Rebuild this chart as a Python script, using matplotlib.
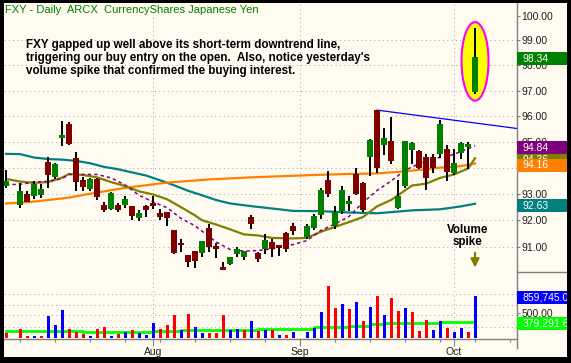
import numpy as np
import pandas as pd
import matplotlib
matplotlib.use("Agg")
import matplotlib.pyplot as plt
from matplotlib.patches import Rectangle, Ellipse
from matplotlib.lines import Line2D
from matplotlib.ticker import FixedLocator, NullLocator, FuncFormatter

plt.rcParams["font.family"] = ["Liberation Sans", "DejaVu Sans"]

# FXY daily bars, Jul 3 - Oct 6 2008 (market closed Jul 4 and Sep 1)
holidays = ["2008-07-04", "2008-09-01"]
dates = pd.bdate_range("2008-07-03", "2008-10-06").drop(pd.to_datetime(holidays))

open_ = [93.30, 92.59, 92.99, 92.93, 92.95, 94.22, 93.63, 95.15, 95.69, 94.36,
         93.52, 93.19, 93.56, 92.60, 92.43, 92.58, 92.60, 92.53, 92.08, 92.56,
         92.65, 92.29, 92.31, 91.63, 91.16, 90.71, 90.86, 90.80, 91.71, 91.05,
         90.26, 90.39, 90.76, 90.64, 92.12, 90.80, 90.94, 91.18, 91.08, 91.55,
         91.79, 91.37, 91.71, 92.22, 93.52, 91.79, 92.34, 92.63, 93.74, 93.43,
         94.41, 96.23, 94.87, 95.02, 92.46, 93.32, 94.67, 94.64, 94.41, 94.41,
         94.52, 94.71, 93.80, 94.57, 94.79, 96.95]
high = [93.91, 93.43, 93.11, 93.48, 93.38, 94.40, 94.19, 95.80, 95.75, 94.60,
        93.65, 93.59, 93.59, 92.71, 93.06, 92.67, 92.93, 92.55, 92.39, 92.58,
        92.93, 92.43, 92.33, 91.65, 91.30, 90.73, 90.88, 91.24, 91.86, 91.16,
        90.47, 90.66, 91.00, 90.86, 92.21, 90.82, 91.48, 91.30, 91.10, 91.57,
        91.90, 91.85, 92.23, 93.23, 93.87, 92.53, 93.32, 92.93, 93.97, 93.45,
        95.11, 96.25, 95.54, 95.96, 93.52, 95.02, 94.98, 94.66, 94.53, 94.53,
        95.83, 94.87, 94.72, 95.00, 95.00, 99.49]
low = [93.24, 92.46, 92.68, 92.80, 92.85, 93.21, 93.56, 94.84, 94.87, 93.12,
       93.12, 93.11, 92.76, 92.32, 92.39, 92.32, 92.47, 92.00, 91.98, 92.12,
       92.45, 92.00, 91.80, 90.76, 90.84, 90.27, 90.23, 90.64, 90.84, 90.60,
       90.16, 90.33, 90.64, 90.53, 91.70, 90.47, 90.75, 90.64, 90.67, 90.84,
       91.45, 91.31, 91.66, 92.04, 92.89, 91.70, 92.23, 92.34, 92.96, 92.30,
       93.70, 93.80, 94.48, 94.14, 92.43, 93.24, 94.14, 93.95, 93.15, 93.80,
       94.37, 93.48, 93.71, 94.33, 93.95, 96.85]
close = [93.48, 93.11, 92.69, 93.38, 93.19, 93.71, 94.14, 95.26, 94.91, 93.45,
         93.26, 93.56, 92.89, 92.39, 93.04, 92.39, 92.82, 92.16, 92.28, 92.39,
         92.53, 92.13, 92.08, 90.80, 91.08, 90.47, 90.51, 91.22, 91.02, 90.95,
         90.17, 90.66, 90.94, 90.86, 91.86, 90.58, 91.26, 90.94, 90.97, 90.95,
         91.59, 91.79, 92.16, 93.15, 92.99, 92.30, 93.15, 92.72, 92.98, 92.38,
         95.06, 93.98, 95.15, 94.26, 92.93, 95.02, 94.96, 94.00, 93.61, 94.00,
         95.69, 93.84, 94.18, 94.96, 94.91, 98.34]
prior_close = 93.60

# volume in thousands of shares
volume = [102, 177, 34, 34, 34, 450, 259, 566, 177, 123,
          82, 34, 177, 225, 41, 82, 123, 157, 102, 55,
          307, 177, 259, 471, 157, 491, 225, 102, 102, 102,
          471, 157, 177, 157, 341, 136, 157, 157, 55, 55,
          116, 116, 198, 525, 1058, 607, 689, 587, 730, 341,
          628, 853, 464, 812, 546, 607, 525, 136, 362, 157,
          341, 198, 116, 198, 116, 859.745]

# moving averages
teal_days = ["07-03", "07-07", "07-09", "07-11", "07-15", "07-17", "07-21", "07-23", "07-25",
             "07-29", "07-31", "08-04", "08-06", "08-08", "08-12", "08-14", "08-18", "08-21",
             "08-26", "08-29", "09-04", "09-10", "09-16", "09-23", "09-29", "10-02", "10-06"]
teal_ma = [94.53, 94.52, 94.39, 94.33, 94.31, 94.26, 94.17, 94.03, 93.94,
           93.82, 93.70, 93.52, 93.33, 93.12, 92.95, 92.77, 92.64, 92.54,
           92.45, 92.36, 92.35, 92.30, 92.27, 92.38, 92.42, 92.53, 92.63]

orange_days = ["07-03", "07-07", "07-09", "07-11", "07-16", "07-18", "07-22", "07-24", "07-28",
               "07-31", "08-05", "08-08", "08-13", "08-18", "08-21", "08-28", "09-03", "09-10",
               "09-16", "09-22", "09-29", "10-02", "10-06"]
orange_ma = [92.64, 92.67, 92.71, 92.77, 92.86, 92.96, 93.05, 93.14, 93.23,
             93.33, 93.43, 93.49, 93.55, 93.59, 93.63, 93.68, 93.72, 93.76,
             93.78, 93.86, 94.00, 94.06, 94.16]

olive_days = ["07-03", "07-07", "07-09", "07-11", "07-15", "07-16", "07-18", "07-22", "07-24",
              "07-28", "07-30", "08-01", "08-05", "08-07", "08-11", "08-12", "08-14", "08-18",
              "08-20", "08-22", "08-26", "08-29", "09-02", "09-04", "09-08", "09-10", "09-12",
              "09-16", "09-18", "09-19", "09-23", "09-25", "09-29", "10-01", "10-03", "10-06"]
olive_ma = [93.57, 93.47, 93.42, 93.45, 93.62, 93.76, 93.72, 93.63, 93.45,
            93.30, 93.10, 92.98, 92.80, 92.50, 92.19, 92.01, 91.85, 91.67,
            91.48, 91.44, 91.35, 91.33, 91.35, 91.58, 91.76, 91.94, 92.13,
            92.53, 92.77, 92.95, 93.32, 93.39, 93.61, 93.74, 93.97, 94.36]

purple_days = ["07-03", "07-07", "07-09", "07-11", "07-15", "07-16", "07-18", "07-22", "07-24",
               "07-25", "07-28", "07-30", "08-01", "08-05", "08-07", "08-11", "08-12", "08-14",
               "08-18", "08-20", "08-22", "08-26", "08-28", "08-29", "09-02", "09-04", "09-08",
               "09-10", "09-12", "09-16", "09-18", "09-22", "09-24", "09-26", "09-30", "10-02",
               "10-06"]
purple_ma = [93.36, 93.36, 93.45, 93.48, 93.58, 93.74, 93.74, 93.74, 93.61,
             93.48, 93.34, 92.95, 92.70, 92.48, 92.08, 91.80, 91.60, 91.20,
             90.92, 90.86, 90.88, 90.94, 91.06, 91.10, 91.25, 91.63, 91.87,
             92.15, 92.68, 93.13, 93.49, 93.90, 94.15, 94.36, 94.42, 94.62,
             94.84]

# volume moving average (thousands), level changes
vma_days = ["07-03", "07-18", "08-01", "08-07", "08-22", "09-03", "09-10", "09-15",
            "09-17", "09-29", "10-06"]
vma = [143, 118, 143, 164, 184, 213, 240, 274, 301, 328, 328]
vma_label = 379291.6

# short-term downtrend line
trend_days = ["09-16", "10-16"]
trend_price = [96.23, 95.44]

note_lines = ["FXY gapped up well above its short-term downtrend line,",
              "triggering our buy entry on the open.  Also, notice yesterday's",
              "volume spike that confirmed the buying interest."]
title = "FXY - Daily  ARCX  CurrencyShares Japanese Yen"

price_ticks = [91, 92, 93, 94, 95, 96, 97, 98, 99, 100]
vol_ticks = [500]
vol_grid = [225, 458, 669, 888]

CREAM = "#fffbf0"
GRID = "#a8a8a8"
AXIS = "#808080"
GREEN, MAROON = "#008000", "#800000"
TEAL, ORANGE, OLIVE, PURPLE = "#008080", "#ff8000", "#808000", "#800080"

# x positions on a weekday axis (holidays keep an empty slot)
axis_days = pd.bdate_range("2008-07-03", "2008-10-17")
x = axis_days.get_indexer(dates)


def xpos(days):
    return axis_days.get_indexer(pd.to_datetime(["2008-" + d for d in days]))


open_, high, low, close = map(np.array, (open_, high, low, close))
volume = np.array(volume)
prev = np.concatenate([[prior_close], close[:-1]])
up_day = close > prev

W, H = 571, 363
fig = plt.figure(figsize=(W / 100, H / 100), dpi=100, facecolor=CREAM)


def px_box(x0, y0, x1, y1):
    return [x0 / W, 1 - y1 / H, (x1 - x0) / W, (y1 - y0) / H]


ax = fig.add_axes(px_box(4, 3, 517.3, 272))
axv = fig.add_axes(px_box(4, 272, 517.3, 339.3), sharex=ax)
for a in (ax, axv):
    a.set_facecolor("none")
    for s in a.spines.values():
        s.set_visible(False)

ax.set_yscale("log")
ax.set_ylim(90.09, 100.52)
ax.set_xlim(-0.29, 73.04)
axv.set_ylim(-33, 1345)

dots = (0, (1, 3.3))
month_starts = [i for i in range(1, len(axis_days)) if axis_days[i].month != axis_days[i - 1].month]
mondays = [i for i in range(len(axis_days)) if axis_days[i].weekday() == 0]
for p in price_ticks[:-1]:
    ax.axhline(p, color=GRID, lw=0.72, ls=dots, zorder=0)
for v in vol_grid:
    axv.axhline(v, color=GRID, lw=0.72, ls=dots, zorder=0)
for m in month_starts:
    ax.axvline(m, color=GRID, lw=0.72, ls=dots, zorder=0)
    axv.axvline(m, color=GRID, lw=0.72, ls=dots, zorder=0)

# moving averages
ax.plot(xpos(teal_days), teal_ma, color=TEAL, lw=1.6, zorder=2)
ax.plot(xpos(orange_days), orange_ma, color=ORANGE, lw=1.6, zorder=2)
ax.plot(xpos(olive_days), olive_ma, color=OLIVE, lw=1.6, zorder=2)
ax.plot(xpos(purple_days), purple_ma, color=PURPLE, lw=1.1, dashes=(2.2, 2.0), zorder=2)
ax.plot(xpos(trend_days), trend_price, color="#0000ff", lw=0.9, zorder=2)

# highlight of the gap bar
ax.add_patch(Ellipse((x[-1], (high[-1] + low[-1]) / 2), 3.86, (high[-1] - low[-1]) * 1.19,
                     facecolor="#ffff00", edgecolor="#ff00ff", lw=1.5, zorder=2.5))

# candles
ax.vlines(x, low, high, color="black", lw=1.4, zorder=3)
body_col = np.where(close >= open_, GREEN, MAROON)
ax.bar(x, np.abs(close - open_), bottom=np.minimum(open_, close), width=0.84,
       color=body_col, zorder=4)

# volume
vol_col = np.where(up_day, "#0000ff", "#ff0000")
axv.bar(x, volume, width=0.43, color=vol_col, zorder=3)
axv.plot(xpos(vma_days), vma, color="#00ff00", lw=2.0, drawstyle="steps-post", zorder=2)

# axes ticks
fmt = FuncFormatter(lambda v, _: f"{v:.2f}")
ax.yaxis.tick_right()
ax.yaxis.set_major_locator(FixedLocator(price_ticks))
ax.yaxis.set_minor_locator(NullLocator())
ax.yaxis.set_major_formatter(fmt)
ax.tick_params(axis="y", length=2.5, width=0.8, color=AXIS, pad=0.4, labelsize=7.5,
               labelcolor="#202020")
ax.tick_params(axis="x", which="both", bottom=False, labelbottom=False)

axv.yaxis.tick_right()
axv.yaxis.set_major_locator(FixedLocator(vol_ticks))
axv.yaxis.set_major_formatter(fmt)
axv.tick_params(axis="y", length=2.5, width=0.8, color=AXIS, pad=0.4, labelsize=7.5,
                labelcolor="#202020")
axv.spines["bottom"].set_visible(True)
axv.spines["bottom"].set_color(AXIS)
axv.spines["bottom"].set_linewidth(1.0)
axv.xaxis.set_major_locator(FixedLocator(month_starts))
axv.xaxis.set_minor_locator(FixedLocator(mondays))
axv.set_xticklabels([axis_days[m].strftime("%b") for m in month_starts])
axv.tick_params(axis="x", which="major", length=5, width=0.8, color=AXIS, pad=0.5,
                labelsize=7.5, labelcolor="#202020")
axv.tick_params(axis="x", which="minor", length=2, width=0.8, color=AXIS)

# annotations
fig.text(5 / W, 1 - 13.3 / H, title, color=GREEN, fontsize=8, va="baseline")
for i, line in enumerate(note_lines):
    fig.text(26 / W, 1 - (47.7 + 13.2 * i) / H, line, fontsize=8.4, fontweight="bold",
             va="baseline")
for i, word in enumerate(["Volume", "spike"]):
    fig.text(467.5 / W, 1 - (232.7 + 12.6 * i) / H, word, fontsize=8.4, fontweight="bold",
             ha="center", va="baseline")
ax.annotate("", xy=(x[-1], 90.25), xytext=(x[-1], 90.80),
            arrowprops=dict(arrowstyle="-|>,head_length=0.5,head_width=0.25",
                            color=OLIVE, lw=1.6, shrinkA=0, shrinkB=0, mutation_scale=10))


# value boxes on the right scale (later boxes cover earlier ones)
def value_box(a, value, text, color, z):
    y = a.transData.transform((0, value))[1]
    fig.add_artist(Rectangle((517.3 / W, (y - 8.6) / H), 54 / W, 13.3 / H,
                             transform=fig.transFigure, facecolor=color, edgecolor="none",
                             zorder=z))
    fig.text(522.5 / W, (y - 2.0) / H, text, color="white", fontsize=7.5, va="center",
             zorder=z + 0.1)


value_box(ax, olive_ma[-1], f"{olive_ma[-1]:.2f}", OLIVE, 5)
value_box(ax, close[-1], f"{close[-1]:.2f}", GREEN, 5.2)
value_box(ax, purple_ma[-1], f"{purple_ma[-1]:.2f}", PURPLE, 5.4)
value_box(ax, orange_ma[-1], f"{orange_ma[-1]:.2f}", ORANGE, 5.6)
value_box(ax, teal_ma[-1], f"{teal_ma[-1]:.2f}", TEAL, 5.8)
value_box(axv, volume[-1], f"{volume[-1] * 1000:,.1f}", "#0000ff", 6)
value_box(axv, vma[-1], f"{vma_label:,.1f}", "#00ff00", 6.2)

# frame lines and black border
fig.add_artist(Line2D([517.3 / W] * 2, [1 - 3 / H, 1 - 348 / H], color=AXIS, lw=1.0, zorder=4))
fig.add_artist(Line2D([517.3 / W, 1], [1 - 271.7 / H] * 2, color=AXIS, lw=1.0, zorder=4))
for bx in [(0, 0, W, 3), (0, 357, W, H), (0, 0, 4, H), (567, 0, W, H)]:
    fig.add_artist(Rectangle((bx[0] / W, 1 - bx[3] / H), (bx[2] - bx[0]) / W, (bx[3] - bx[1]) / H,
                             transform=fig.transFigure, facecolor="black", edgecolor="none",
                             zorder=10))

fig.savefig("out.png", dpi=100, facecolor=fig.get_facecolor())
